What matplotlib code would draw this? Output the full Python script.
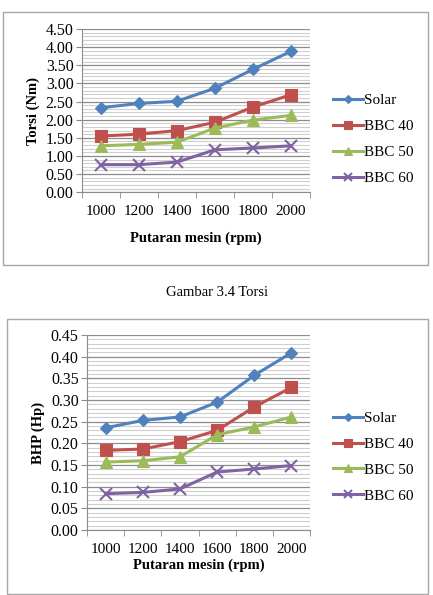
import matplotlib
matplotlib.use('Agg')
import matplotlib.pyplot as plt
from matplotlib.patches import Rectangle
from matplotlib.ticker import MultipleLocator

plt.rcParams['font.family'] = ['Liberation Serif', 'DejaVu Serif']

# data
rpm = ['1000', '1200', '1400', '1600', '1800', '2000']
series_names = ['Solar', 'BBC 40', 'BBC 50', 'BBC 60']

torsi_solar = [2.33, 2.45, 2.51, 2.87, 3.39, 3.89]
torsi_bbc40 = [1.55, 1.60, 1.70, 1.93, 2.35, 2.69]
torsi_bbc50 = [1.28, 1.32, 1.38, 1.77, 1.99, 2.12]
torsi_bbc60 = [0.76, 0.76, 0.83, 1.17, 1.22, 1.28]

bhp_solar = [0.236, 0.253, 0.261, 0.295, 0.357, 0.409]
bhp_bbc40 = [0.184, 0.187, 0.204, 0.230, 0.284, 0.329]
bhp_bbc50 = [0.157, 0.160, 0.169, 0.220, 0.238, 0.261]
bhp_bbc60 = [0.084, 0.087, 0.095, 0.134, 0.141, 0.149]

colors = ['#4F81BD', '#C0504D', '#9BBB59', '#8064A2']
markers = ['D', 's', '^', 'x']
msizes = [6, 8, 8, 8]


def draw(ax, series, ymax, major, minor, fmt, ylabel, leg_y):
    x = list(range(len(rpm)))
    lines = []
    for vals, name, c, m, ms in zip(series, series_names, colors, markers, msizes):
        ln, = ax.plot(x, vals, color=c, lw=2.2, marker=m, markersize=ms,
                      markeredgewidth=1.5 if m == 'x' else 0.8, label=name)
        lines.append(ln)
    ax.set_xlim(-0.5, len(rpm) - 0.5)
    ax.set_ylim(0, ymax)
    ax.yaxis.set_major_locator(MultipleLocator(major))
    ax.yaxis.set_minor_locator(MultipleLocator(minor))
    ax.yaxis.set_major_formatter(plt.FuncFormatter(lambda v, p: fmt % v))
    ax.grid(which='major', axis='y', color='#8c8c8c', lw=0.9)
    ax.grid(which='minor', axis='y', color='#cfcfcf', lw=0.8)
    ax.set_axisbelow(True)
    ax.set_xticks(x)
    ax.set_xticklabels(rpm)
    ax.set_xticks([i - 0.5 for i in range(len(rpm) + 1)], minor=True)
    ax.tick_params(axis='x', which='major', length=0, pad=9, labelsize=11)
    ax.tick_params(axis='x', which='minor', length=4, color='#8c8c8c')
    ax.tick_params(axis='y', which='major', length=4, color='#8c8c8c', labelsize=11.5, pad=2)
    ax.tick_params(axis='y', which='minor', length=0)
    for s in ['top', 'right']:
        ax.spines[s].set_visible(False)
    for s in ['left', 'bottom']:
        ax.spines[s].set_color('#8c8c8c')
    ax.set_xlabel('Putaran mesin (rpm)', fontweight='bold', fontsize=10.5)
    ax.set_ylabel(ylabel, fontweight='bold', fontsize=10.5, labelpad=4)
    fig.legend(handles=lines, loc='center left', bbox_to_anchor=(0.737, leg_y),
               frameon=False, fontsize=11, handlelength=2.0, handletextpad=0.05,
               labelspacing=0.8, markerscale=0.7)


fig = plt.figure(figsize=(4.33, 5.95), dpi=100)

# frames around both charts
fig.patches.append(Rectangle((0.007, 0.555), 0.982, 0.425, transform=fig.transFigure,
                             fill=False, edgecolor='#a6a6a6', lw=1.0))
fig.patches.append(Rectangle((0.016, 0.001), 0.972, 0.463, transform=fig.transFigure,
                             fill=False, edgecolor='#a6a6a6', lw=1.0))

ax1 = fig.add_axes([0.189, 0.677, 0.527, 0.274])
draw(ax1, [torsi_solar, torsi_bbc40, torsi_bbc50, torsi_bbc60], 4.5, 0.5, 0.1,
     '%.2f', 'Torsi (Nm)', 0.766)
ax1.xaxis.labelpad = 10

fig.text(0.5, 0.508, 'Gambar 3.4 Torsi', ha='center', va='center', fontsize=10.5)

ax2 = fig.add_axes([0.201, 0.109, 0.515, 0.328])
draw(ax2, [bhp_solar, bhp_bbc40, bhp_bbc50, bhp_bbc60], 0.45, 0.05, 0.01,
     '%.2f', 'BHP (Hp)', 0.232)
ax2.xaxis.labelpad = 2

fig.savefig('out.png', dpi=100)
